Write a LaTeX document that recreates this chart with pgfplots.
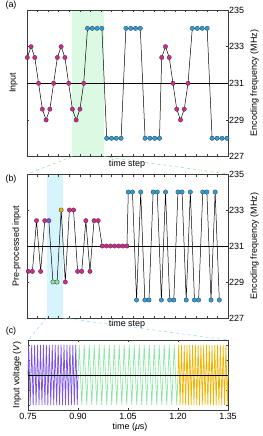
\documentclass[border=0pt]{standalone}
\usepackage{fontspec}
\setmainfont{Liberation Sans}
\usepackage{pgfplots}
\pgfplotsset{compat=1.18}
\definecolor{pinkM}{RGB}{212,38,142}
\definecolor{blueM}{RGB}{40,160,222}
\definecolor{purpM}{RGB}{122,82,228}
\definecolor{greenM}{RGB}{140,230,165}
\definecolor{yellM}{RGB}{240,180,0}
\definecolor{greenShade}{RGB}{220,249,227}
\definecolor{cyanShade}{RGB}{214,244,252}
\definecolor{greenDash}{RGB}{150,230,170}
\definecolor{cyanDash}{RGB}{150,222,245}
\definecolor{frameC}{RGB}{60,60,60}
\pgfplotsset{
  panel/.style={scale only axis, anchor=south west, set layers, clip=false,
    axis line style={frameC, line width=0.6pt},
    tick style={frameC, line width=0.5pt}, major tick length=2.5pt,
    tick align=inside, tick pos=both,
    ticklabel style={font=\fontsize{9}{10}\selectfont},
    /pgf/number format/assume math mode=true},
  dots/.style={black, line width=0.5pt, scatter, point meta=explicit symbolic,
    mark=*, mark size=2.2pt, mark options={line width=0.35pt, draw=black!75},
    scatter/classes={p={mark=*,fill=pinkM}, b={mark=*,fill=blueM},
      v={mark=*,fill=purpM}, g={mark=*,fill=greenM}, y={mark=*,fill=yellM}}},
}
\begin{document}
\begin{tikzpicture}
\def\fs{\fontsize{9}{10}\selectfont}
% ---------------- panel (a)
\begin{axis}[panel, at={(27bp,-156.6bp)}, width=201bp, height=146.6bp,
  xmin=27, xmax=228, ymin=227, ymax=235,
  ytick={227,229,231,233,235}, yticklabel pos=right,
  yticklabel style={anchor=west, inner sep=1pt},
  xtick={37.58,48.16,58.74,69.32,79.9,90.48,101.06,111.64,122.22,132.8,143.38,153.96,164.54,175.12,185.7,196.28,206.86,217.44},
  xticklabels={}]
\begin{pgfonlayer}{axis background}
\fill[greenShade] (axis cs:72.3,227) rectangle (axis cs:104,235);
\end{pgfonlayer}
\draw[black, line width=0.8pt] (axis cs:27,231) -- (axis cs:228,231);
\addplot[dots] table[meta=c] {
x y c
27.30 232.41 p
31.06 233.00 p
34.82 232.41 p
38.58 231.00 p
42.34 229.59 p
46.10 229.00 p
49.86 229.59 p
53.62 231.00 p
57.38 232.41 p
61.14 233.00 p
64.90 232.41 p
68.66 231.00 p
72.42 229.59 p
76.18 229.00 p
79.94 229.59 p
83.70 231.00 p
87.50 234 b
92.30 234 b
97.10 234 b
101.90 234 b
106.70 228 b
111.50 228 b
116.30 228 b
121.10 228 b
125.90 234 b
130.70 234 b
135.50 234 b
140.30 234 b
145.10 228 b
149.90 228 b
154.70 228 b
159.50 228 b
161.70 232.41 p
165.46 233.00 p
169.22 232.41 p
172.98 231.00 p
176.74 229.59 p
180.50 229.00 p
184.26 229.59 p
188.02 231.00 p
192.30 234 b
197.25 234 b
202.20 234 b
207.15 234 b
212.10 228 b
217.05 228 b
222.00 228 b
226.95 228 b
};
\end{axis}
% ---------------- panel (b)
\begin{axis}[panel, at={(27bp,-318bp)}, width=201bp, height=144bp,
  xmin=27, xmax=228, ymin=227, ymax=235,
  ytick={227,229,231,233,235}, yticklabel pos=right,
  yticklabel style={anchor=west, inner sep=1pt},
  xtick={37.58,48.16,58.74,69.32,79.9,90.48,101.06,111.64,122.22,132.8,143.38,153.96,164.54,175.12,185.7,196.28,206.86,217.44},
  xticklabels={}]
\begin{pgfonlayer}{axis background}
\fill[cyanShade] (axis cs:46.7,227) rectangle (axis cs:63.3,235);
\end{pgfonlayer}
\draw[black, line width=0.8pt] (axis cs:27,231) -- (axis cs:228,231);
\addplot[dots] table[meta=c] {
x y c
28.30 229.59 p
32.41 229.59 p
36.52 232.41 p
40.63 229.59 p
44.74 232.41 p
48.85 232.41 v
52.96 229.00 g
57.07 229.00 g
61.18 233.00 y
65.29 229.00 p
69.40 233.00 p
73.51 233.00 p
77.62 229.59 p
81.73 229.59 p
85.84 232.41 p
89.95 229.59 p
94.06 232.41 p
98.17 232.41 p
102.28 231 p
106.39 231 p
110.50 231 p
114.61 231 p
118.72 231 p
122.83 231 p
126.94 231 p
128.30 234 b
132.44 234 b
136.57 228 b
140.71 234 b
144.84 228 b
148.98 228 b
153.12 234 b
157.25 234 b
161.39 228 b
165.52 234 b
169.66 228 b
173.80 228 b
177.93 234 b
182.07 234 b
186.20 228 b
190.34 234 b
194.48 228 b
198.61 228 b
202.75 234 b
206.88 234 b
211.02 228 b
215.16 234 b
219.29 228 b
};
\end{axis}
% ---------------- panel (c)
\begin{axis}[panel, at={(28bp,-410bp)}, width=200bp, height=70bp,
  xmin=0.75, xmax=1.35, ymin=-1.1667, ymax=1.1667,
  xtick={0.75,0.9,1.05,1.2,1.35}, xticklabels={0.75,0.90,1.05,1.20,1.35},
  ytick={-1,-0.5,0,0.5,1}, yticklabels={}]
\addplot[purpM, line width=0.7pt] coordinates {
(0.75,0)
(0.75221,1)(0.75662,-1)(0.76103,1)(0.76544,-1)(0.76985,1)(0.77426,-1)
(0.77868,1)(0.78309,-1)(0.78750,1)(0.79191,-1)(0.79632,1)(0.80074,-1)
(0.80515,1)(0.80956,-1)(0.81397,1)(0.81838,-1)(0.82279,1)(0.82721,-1)
(0.83162,1)(0.83603,-1)(0.84044,1)(0.84485,-1)(0.84926,1)(0.85368,-1)
(0.85809,1)(0.86250,-1)(0.86691,1)(0.87132,-1)(0.87574,1)(0.88015,-1)
(0.88456,1)(0.88897,-1)(0.89338,1)(0.89779,-1)(0.90,0)
};
\addplot[greenM, line width=0.7pt] coordinates {
(0.90,0)
(0.90375,1)(0.91125,-1)(0.91875,1)(0.92625,-1)(0.93375,1)(0.94125,-1)
(0.94875,1)(0.95625,-1)(0.96375,1)(0.97125,-1)(0.97875,1)(0.98625,-1)
(0.99375,1)(1.00125,-1)(1.00875,1)(1.01625,-1)(1.02375,1)(1.03125,-1)
(1.03875,1)(1.04625,-1)(1.05375,1)(1.06125,-1)(1.06875,1)(1.07625,-1)
(1.08375,1)(1.09125,-1)(1.09875,1)(1.10625,-1)(1.11375,1)(1.12125,-1)
(1.12875,1)(1.13625,-1)(1.14375,1)(1.15125,-1)(1.15875,1)(1.16625,-1)
(1.17375,1)(1.18125,-1)(1.18875,1)(1.19625,-1)(1.20,0)
};
\addplot[yellM, line width=0.7pt] coordinates {
(1.20,0)
(1.20208,1)(1.20625,-1)(1.21042,1)(1.21458,-1)(1.21875,1)(1.22292,-1)
(1.22708,1)(1.23125,-1)(1.23542,1)(1.23958,-1)(1.24375,1)(1.24792,-1)
(1.25208,1)(1.25625,-1)(1.26042,1)(1.26458,-1)(1.26875,1)(1.27292,-1)
(1.27708,1)(1.28125,-1)(1.28542,1)(1.28958,-1)(1.29375,1)(1.29792,-1)
(1.30208,1)(1.30625,-1)(1.31042,1)(1.31458,-1)(1.31875,1)(1.32292,-1)
(1.32708,1)(1.33125,-1)(1.33542,1)(1.33958,-1)(1.34375,1)(1.34792,-1)
(1.35,0)
};
\draw[black, line width=0.8pt] (axis cs:0.75,0) -- (axis cs:1.35,0);
\end{axis}
% ---------------- connectors
\draw[greenDash, dashed, line width=0.6pt] (72.3bp,-156.6bp) -- (27bp,-174bp);
\draw[greenDash, dashed, line width=0.6pt] (104bp,-156.6bp) -- (228bp,-174bp);
\draw[cyanDash, dashed, line width=0.6pt] (46.7bp,-318bp) -- (28bp,-340bp);
\draw[cyanDash, dashed, line width=0.6pt] (63.3bp,-318bp) -- (228bp,-340bp);
% ---------------- labels
\node[font=\fs] at (11bp,-5.5bp) {(a)};
\node[font=\fs] at (11bp,-179bp) {(b)};
\node[font=\fs] at (11bp,-331.5bp) {(c)};
\node[font=\fs, rotate=90] at (13.5bp,-83bp) {Input};
\node[font=\fs, rotate=90] at (16.5bp,-246bp) {Pre-processed input};
\node[font=\fs, rotate=90] at (17bp,-375bp) {Input voltage (\textit{V})};
\node[font=\fs, rotate=90] at (254.5bp,-83bp) {Encoding frequency (MHz)};
\node[font=\fs, rotate=90] at (254.5bp,-246bp) {Encoding frequency (MHz)};
\node[font=\fs] at (127bp,-164bp) {time step};
\node[font=\fs] at (127bp,-324.5bp) {time step};
\node[font=\fs] at (130bp,-427.5bp) {time (\textit{μ}s)};
\pgfresetboundingbox
\useasboundingbox (0,0) rectangle (263bp,-436bp);
\end{tikzpicture}
\end{document}
